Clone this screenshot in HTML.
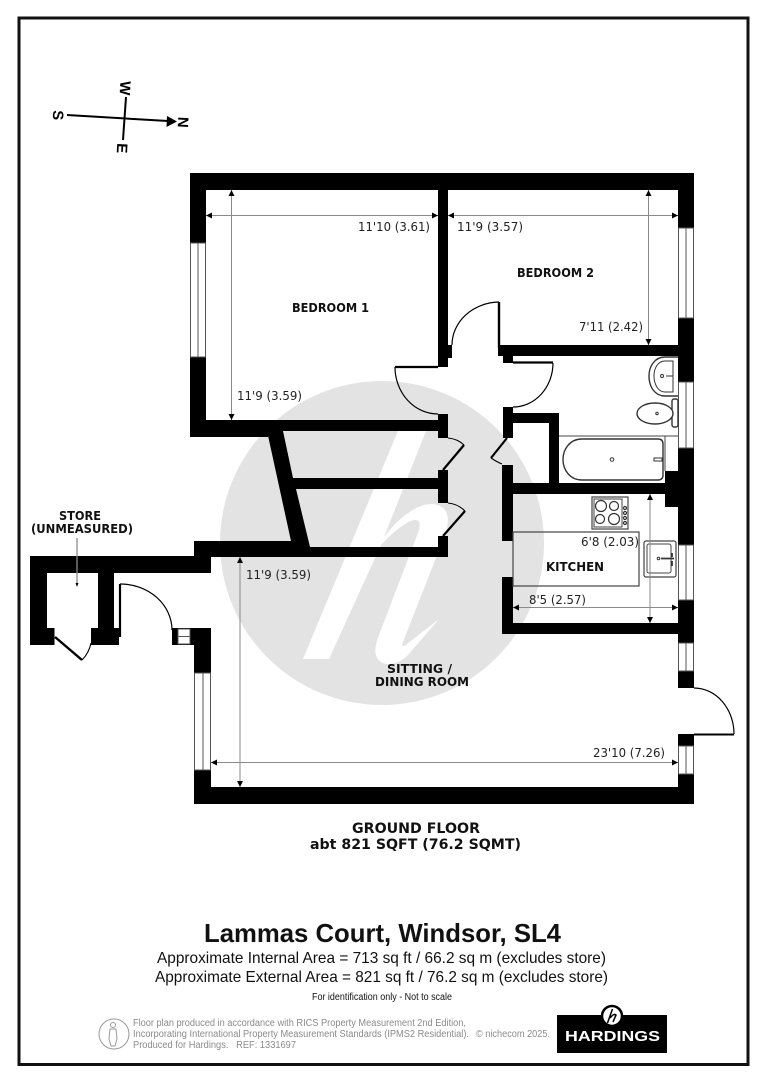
<!DOCTYPE html>
<html><head><meta charset="utf-8"><style>
html,body{margin:0;padding:0;background:#fff}
svg{display:block}
text{white-space:pre}
.d{font:12px "DejaVu Sans",sans-serif;fill:#222}
.b{font:bold 12px "DejaVu Sans",sans-serif;fill:#111}
.t{font-family:"Liberation Sans",sans-serif;fill:#111}
.f{font:10px "Liberation Sans",sans-serif;fill:#8b8b8b}
.dim{stroke:#8a8a8a;stroke-width:1;fill:none}
.fx{stroke:#333;stroke-width:1.4;fill:#fff}
.fn{stroke:#333;stroke-width:1;fill:none}
</style></head><body>
<svg width="764" height="1080" viewBox="0 0 764 1080" xmlns="http://www.w3.org/2000/svg">
<rect width="764" height="1080" fill="#fff"/>
<rect x="19" y="18" width="729" height="1046.500" fill="none" stroke="#111" stroke-width="3"/>

<!-- watermark -->
<circle cx="382" cy="543" r="162" fill="#e3e3e3"/>
<path fill="#fff" d="M303 659 L329 659 L381 545 C392 533 405 522 414 520 C420 519 421 525 418 533 L379 635 C373 650 375 658 381 662 C389 667 400 663 408 655 L439 619 L407 644 C403 648 401 646 403 642 L445 535 C451 518 448 505 432 504 C415 504 397 520 384 537 L428 426 L400 426 Z"/>

<!-- Walls -->
<g fill="#000">
<rect x="190" y="173" width="504" height="17"/>
<rect x="190" y="173" width="16" height="70"/>
<rect x="190" y="357" width="16" height="80"/>
<rect x="190" y="420" width="78" height="17"/>
<rect x="268" y="420" width="170" height="11"/>
<rect x="438" y="190" width="10" height="177"/>
<rect x="448" y="345" width="4" height="13"/>
<rect x="438" y="414" width="10" height="24"/>
<polygon points="267,431 283,431 293,478 296,489 310,547 291,547 291,541"/>
<rect x="292" y="478" width="146" height="11"/>
<rect x="438" y="470" width="10" height="33"/>
<rect x="438" y="536" width="10" height="21"/>
<rect x="194" y="547" width="254" height="10"/>
<rect x="194" y="541" width="99" height="16"/>
<rect x="30" y="556" width="181" height="17"/>
<rect x="194" y="541" width="17" height="32"/>
<rect x="30" y="556" width="17" height="89"/>
<rect x="30" y="628" width="24.500" height="17"/>
<rect x="98" y="573" width="16" height="55"/>
<rect x="91" y="628" width="28" height="17"/>
<rect x="172" y="628" width="39" height="17"/>
<rect x="194" y="628" width="17" height="45"/>
<rect x="194" y="770" width="17" height="34"/>
<rect x="194" y="787" width="500" height="17"/>
<rect x="678" y="774" width="16" height="30"/>
<rect x="678" y="734" width="16" height="12"/>
<rect x="678" y="671" width="16" height="17"/>
<rect x="678" y="600" width="16" height="43"/>
<rect x="678" y="448" width="16" height="97"/>
<rect x="665" y="471" width="13" height="36"/>
<rect x="678" y="318" width="16" height="64"/>
<rect x="678" y="190" width="16" height="38"/>
<rect x="498" y="345" width="180" height="11"/>
<rect x="503" y="356" width="10" height="7"/>
<rect x="503" y="407" width="10" height="31"/>
<rect x="513" y="413" width="46" height="10"/>
<rect x="549" y="413" width="10" height="70"/>
<rect x="502" y="483" width="163" height="11"/>
<rect x="502" y="465" width="11" height="76"/>
<rect x="502" y="577" width="11" height="57"/>
<rect x="502" y="623" width="176" height="11"/>
<rect x="678" y="623" width="16" height="20"/>
</g>

<!-- Windows -->
<g fill="#fff" stroke="#555" stroke-width="1">
<rect x="190.500" y="243" width="15" height="114"/><line x1="198" y1="243" x2="198" y2="357"/>
<rect x="678.500" y="228" width="15" height="90"/><line x1="686" y1="228" x2="686" y2="318"/>
<rect x="678.500" y="382" width="15" height="66"/><line x1="686" y1="382" x2="686" y2="448"/>
<rect x="678.500" y="545" width="15" height="55"/><line x1="686" y1="545" x2="686" y2="600"/>
<rect x="678.500" y="643" width="15" height="28"/><line x1="686" y1="643" x2="686" y2="671"/>
<rect x="678.500" y="746" width="15" height="28"/><line x1="686" y1="746" x2="686" y2="774"/>
<rect x="194.500" y="673" width="16" height="97"/><line x1="203" y1="673" x2="203" y2="770"/>
<rect x="178" y="629" width="12" height="15"/><line x1="178" y1="636.500" x2="190" y2="636.500"/>
</g>

<!-- Doors -->
<g fill="none" stroke="#000">
<path d="M452 345 A48 43 0 0 1 499 302" stroke-width="1.200"/>
<line x1="499" y1="302" x2="499" y2="348" stroke-width="2.400"/>
<line x1="395" y1="367" x2="438" y2="367" stroke-width="2.200"/>
<path d="M395 367 A43 47 0 0 0 438 414" stroke-width="1.200"/>
<line x1="513" y1="362.500" x2="553" y2="362.500" stroke-width="2.200"/>
<path d="M553 363 A40 44 0 0 1 513 407" stroke-width="1.200"/>
<path d="M448 438 Q458 439 464 445" stroke-width="1.100"/>
<line x1="464" y1="445" x2="443" y2="470" stroke-width="2.200"/>
<path d="M448 503 Q458 504 465 511" stroke-width="1.100"/>
<line x1="465" y1="511" x2="443" y2="536" stroke-width="2.200"/>
<line x1="507" y1="438" x2="491" y2="458" stroke-width="2.200"/>
<path d="M491 458 Q497 462 502 464" stroke-width="1.100"/>
<line x1="55" y1="637" x2="82" y2="660" stroke-width="2.400"/>
<path d="M82 660 Q89 653 91 643" stroke-width="1.100"/>
<line x1="120" y1="584" x2="120" y2="637" stroke-width="2.200"/>
<path d="M120 584 A52 46 0 0 1 172 630" stroke-width="1.200"/>
<line x1="694" y1="734.500" x2="734" y2="734.500" stroke-width="2"/>
<path d="M694 688 A40 46 0 0 1 734 734" stroke-width="1.200"/>
</g>

<!-- Bathroom fixtures -->
<g>
<line x1="559" y1="436" x2="678" y2="436" stroke="#444" stroke-width="1"/>
<line x1="665" y1="436" x2="665" y2="471" stroke="#444" stroke-width="1"/>
<path class="fx" d="M582 439 H658 Q663 439 663 444 V475 Q663 480 658 480 H582 C570 480 563 470 563 459.500 C563 449 570 439 582 439 Z"/>
<circle class="fn" cx="612" cy="459.500" r="1.800"/>
<path class="fn" d="M654 458 h8 v3 h-8 z"/>
<path class="fx" d="M678 357 H665 C655 357 649 366 649 376 C649 387 655 396 665 396 H678"/>
<path class="fn" d="M673 361 H665 C658 361 654 368 654 376 C654 384 658 392 665 392 H673 Z"/>
<circle class="fn" cx="662" cy="376" r="1.500"/>
<path class="fn" d="M666 376 h7"/>
<rect class="fx" x="672" y="399" width="6" height="28" rx="2"/>
<ellipse class="fx" cx="655" cy="413.500" rx="18" ry="10.500"/>
<circle class="fn" cx="657" cy="413.500" r="1.200"/>
<!-- Kitchen fixtures -->
<rect x="513" y="532" width="126" height="54" fill="none" stroke="#444" stroke-width="1.200"/>
<rect x="592" y="497" width="36" height="32" fill="#fff" stroke="#444" stroke-width="1.200"/>
<rect x="594" y="499" width="28" height="28" fill="none" stroke="#444" stroke-width="1"/>
<g fill="none" stroke="#333" stroke-width="1.200">
<circle cx="601" cy="506" r="5.500"/><circle cx="614" cy="506" r="4.500"/>
<circle cx="600" cy="519" r="4.500"/><circle cx="614" cy="519" r="5.500"/>
<circle cx="625" cy="508" r="1.500"/><circle cx="625" cy="513" r="1.500"/><circle cx="625" cy="518" r="1.500"/><circle cx="625" cy="523" r="1.500"/>
</g>
<rect x="644" y="541" width="32" height="36" rx="2" fill="#fff" stroke="#444" stroke-width="1.200"/>
<rect x="647" y="544" width="24" height="29" rx="2" fill="#fff" stroke="#444" stroke-width="1"/>
<circle class="fn" cx="658.500" cy="558.500" r="1.300"/>
<path d="M661 558.500 H674 M672 553 v4 M672 561 v5" stroke="#333" stroke-width="1.800" fill="none"/>
</g>

<!-- Dimensions -->
<g class="dim">
<line x1="206" y1="215.500" x2="438" y2="215.500"/>
<line x1="231.500" y1="190" x2="231.500" y2="420"/>
<line x1="448" y1="215.500" x2="678" y2="215.500"/>
<line x1="648.500" y1="190" x2="648.500" y2="345"/>
<line x1="650" y1="494" x2="650" y2="623"/>
<line x1="513" y1="607.500" x2="678" y2="607.500"/>
<line x1="240" y1="557" x2="240" y2="787"/>
<line x1="211" y1="762.500" x2="678" y2="762.500"/>
<line x1="77" y1="538" x2="77" y2="584" stroke-width="1.300"/>
</g>
<g fill="#000">
<path d="M206 215.500 l6 -3 v6 z M438 215.500 l-6 -3 v6 z M448 215.500 l6 -3 v6 z M678 215.500 l-6 -3 v6 z"/>
<path d="M231.500 190 l-3 6 h6 z M231.500 420 l-3 -6 h6 z"/>
<path d="M648.500 190 l-3 6 h6 z M648.500 345 l-3 -6 h6 z"/>
<path d="M650 494 l-3 6 h6 z M650 623 l-3 -6 h6 z"/>
<path d="M513 607.500 l6 -3 v6 z M678 607.500 l-6 -3 v6 z"/>
<path d="M240 557 l-3 6 h6 z M240 787 l-3 -6 h6 z"/>
<path d="M211 762.500 l6 -3 v6 z M678 762.500 l-6 -3 v6 z"/>
<path d="M77 587 l-1.500 -4 h3 z"/>
</g>

<!-- Dim text -->
<g class="d">
<text x="358" y="231" textLength="72" lengthAdjust="spacingAndGlyphs">11'10 (3.61)</text>
<text x="457" y="231" textLength="66" lengthAdjust="spacingAndGlyphs">11'9 (3.57)</text>
<text x="579" y="331" textLength="64" lengthAdjust="spacingAndGlyphs">7'11 (2.42)</text>
<text x="237" y="400" textLength="65" lengthAdjust="spacingAndGlyphs">11'9 (3.59)</text>
<text x="581" y="546" textLength="58" lengthAdjust="spacingAndGlyphs">6'8 (2.03)</text>
<text x="529" y="604" textLength="57" lengthAdjust="spacingAndGlyphs">8'5 (2.57)</text>
<text x="246" y="579" textLength="65" lengthAdjust="spacingAndGlyphs">11'9 (3.59)</text>
<text x="593" y="757" textLength="72" lengthAdjust="spacingAndGlyphs">23'10 (7.26)</text>
</g>
<g class="b">
<text x="292" y="312" textLength="77" lengthAdjust="spacingAndGlyphs">BEDROOM 1</text>
<text x="517" y="277" textLength="77" lengthAdjust="spacingAndGlyphs">BEDROOM 2</text>
<text x="546" y="571" textLength="58" lengthAdjust="spacingAndGlyphs">KITCHEN</text>
<text x="387" y="673" textLength="65" lengthAdjust="spacingAndGlyphs">SITTING /</text>
<text x="375" y="686" textLength="94" lengthAdjust="spacingAndGlyphs">DINING ROOM</text>
<text x="59" y="520" textLength="42" lengthAdjust="spacingAndGlyphs">STORE</text>
<text x="31" y="533" textLength="102" lengthAdjust="spacingAndGlyphs">(UNMEASURED)</text>
<text x="352" y="833" textLength="128" lengthAdjust="spacingAndGlyphs" style="font-size:14px">GROUND FLOOR</text>
<text x="310" y="849" textLength="211" lengthAdjust="spacingAndGlyphs" style="font-size:14px">abt 821 SQFT (76.2 SQMT)</text>
</g>

<!-- Compass -->
<g>
<line x1="67" y1="115" x2="168" y2="121" stroke="#000" stroke-width="2"/>
<path d="M177 121.500 L167 116 L166.500 127 Z" fill="#000"/>
<line x1="126" y1="97" x2="123" y2="140" stroke="#000" stroke-width="2"/>
<g font-family="Liberation Sans" font-weight="bold" font-size="15" fill="#000" text-anchor="middle">
<text transform="translate(53,115) rotate(93)">S</text>
<text transform="translate(178,122) rotate(93)">N</text>
<text transform="translate(120,88) rotate(93)">W</text>
<text transform="translate(117,148) rotate(93)">E</text>
</g>
</g>

<!-- Bottom text -->
<text class="t" x="204" y="942" textLength="357" lengthAdjust="spacingAndGlyphs" font-weight="bold" font-size="26">Lammas Court, Windsor, SL4</text>
<text class="t" x="157" y="963" textLength="449" lengthAdjust="spacingAndGlyphs" font-size="16">Approximate Internal Area = 713 sq ft / 66.2 sq m (excludes store)</text>
<text class="t" x="155" y="982" textLength="453" lengthAdjust="spacingAndGlyphs" font-size="16">Approximate External Area = 821 sq ft / 76.2 sq m (excludes store)</text>
<text class="t" x="312" y="1000" textLength="140" lengthAdjust="spacingAndGlyphs" font-size="10">For identification only - Not to scale</text>
<text class="f" x="133" y="1026" textLength="333" lengthAdjust="spacingAndGlyphs">Floor plan produced in accordance with RICS Property Measurement 2nd Edition,</text>
<text class="f" x="133" y="1037" textLength="336" lengthAdjust="spacingAndGlyphs">Incorporating International Property Measurement Standards (IPMS2 Residential).</text>
<text class="f" x="476" y="1037" textLength="74" lengthAdjust="spacingAndGlyphs">© nichecom 2025.</text>
<text class="f" x="133" y="1048" textLength="163" lengthAdjust="spacingAndGlyphs">Produced for Hardings.   REF: 1331697</text>
<g fill="none" stroke="#999" stroke-width="1">
<circle cx="114" cy="1034" r="15"/>
<circle cx="113" cy="1025" r="2.500"/>
<path d="M110 1029 h6 l1 10 l-2 7 h-4 l-2 -7 z"/>
</g>

<!-- Logo -->
<rect x="557" y="1015" width="110" height="38" fill="#000"/>
<circle cx="612" cy="1016" r="10" fill="#fff" stroke="#000" stroke-width="2.500"/>
<path d="M612.500 1009 L607.500 1023 M610 1018 Q614 1013 616 1015 L613 1022" fill="none" stroke="#000" stroke-width="1.500"/>
<text x="565" y="1041" textLength="95" lengthAdjust="spacingAndGlyphs" font-family="Liberation Sans" font-weight="bold" font-size="15" fill="#fff">HARDINGS</text>
</svg>
</body></html>
